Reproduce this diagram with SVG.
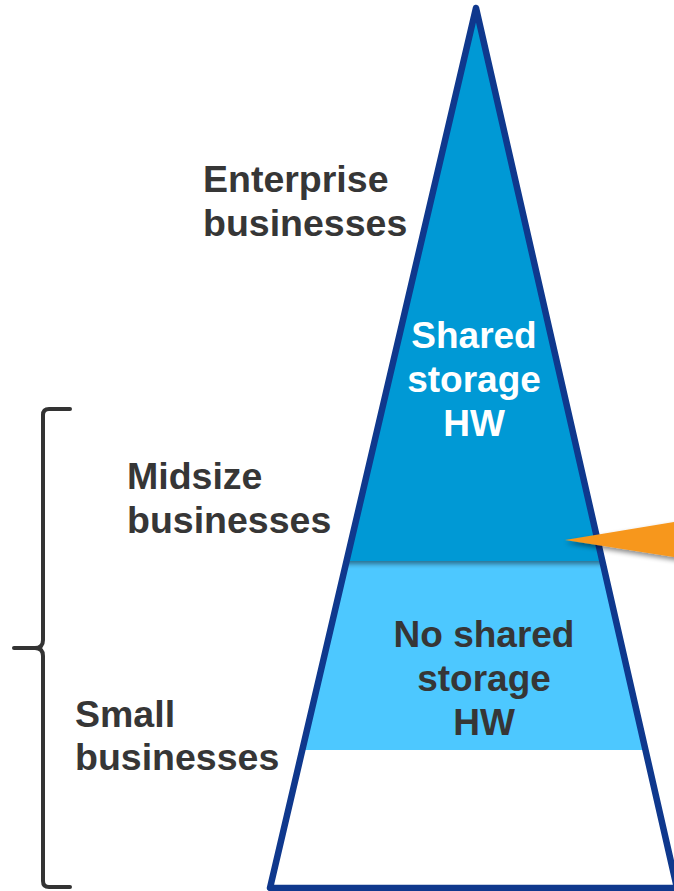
<svg xmlns="http://www.w3.org/2000/svg" width="674" height="891" viewBox="0 0 674 891">
<style>
.lbl{font-family:"Liberation Sans",Arial,sans-serif;font-weight:bold;font-size:37.5px;fill:#363636}
.in{font-family:"Liberation Sans",Arial,sans-serif;font-weight:bold;font-size:37px;text-anchor:middle}
</style>
<defs>
<clipPath id="tri"><polygon points="476,8 270,888 677,888"/></clipPath>
<filter id="sh" x="-10%" y="-10%" width="120%" height="130%">
<feGaussianBlur in="SourceAlpha" stdDeviation="2.5"/>
<feOffset dx="0" dy="3" result="b"/>
<feComponentTransfer><feFuncA type="linear" slope="0.45"/></feComponentTransfer>
<feMerge><feMergeNode/><feMergeNode in="SourceGraphic"/></feMerge>
</filter>
</defs>
<rect width="674" height="891" fill="#fff"/>
<g id="pyramid">
<g clip-path="url(#tri)">
<rect id="band-light" x="260" y="561" width="430" height="189" fill="#4DC8FF"/>
<rect id="band-dark" x="260" y="0" width="430" height="561" fill="#0099D5" filter="url(#sh)"/>
</g>
<polygon points="476,8 270,888 677,888" fill="none" stroke="#0F388D" stroke-width="6.5" stroke-linejoin="round"/>
</g>
<g id="shared">
<text class="in" fill="#fff"><tspan x="474" y="348">Shared</tspan><tspan x="474" y="392">storage</tspan><tspan x="474" y="436">HW</tspan></text>
</g>
<g id="noshared">
<text class="in" fill="#363636"><tspan x="484" y="647">No shared</tspan><tspan x="484" y="691">storage</tspan><tspan x="484" y="735">HW</tspan></text>
</g>
<g id="connectors">
<polygon points="565,540 680,521 680,558" fill="#F7971E" filter="url(#sh)"/>
<path d="M70,409 H49 Q43,409 43,415 V640 Q43,648 35,648 H14 M35,648 Q43,648 43,656 V881 Q43,887 49,887 H70" fill="none" stroke="#333" stroke-width="4" stroke-linecap="round"/>
</g>
<g id="enterprise"><text class="lbl"><tspan x="203" y="192">Enterprise</tspan><tspan x="203" y="236">businesses</tspan></text></g>
<g id="midsize"><text class="lbl"><tspan x="127" y="489">Midsize</tspan><tspan x="127" y="533">businesses</tspan></text></g>
<g id="small"><text class="lbl"><tspan x="75" y="727">Small</tspan><tspan x="75" y="770">businesses</tspan></text></g>
</svg>
